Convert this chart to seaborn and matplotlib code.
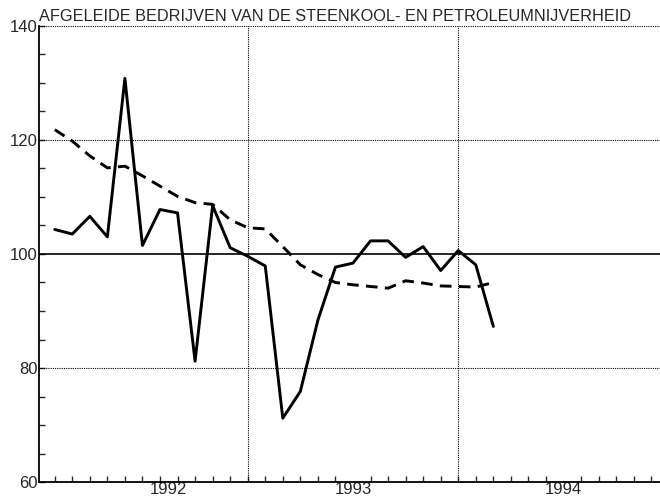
import numpy as np
import pandas as pd
import matplotlib
matplotlib.use("Agg")
import matplotlib.pyplot as plt
import seaborn as sns

# monthly index values, starting at month 1 (early 1992)
months = list(range(1, 27))
actual = [104.3, 103.5, 106.6, 103.0, 130.8, 101.5, 107.8, 107.2, 81.2, 108.5,
          101.1, 99.6, 97.9, 71.2, 75.9, 88.4, 97.7, 98.4, 102.3, 102.3,
          99.4, 101.3, 97.1, 100.6, 98.1, 87.3]
trend = [121.8, 119.8, 117.2, 115.1, 115.4, 113.7, 111.9, 110.1, 109.0, 108.7,
         106.0, 104.6, 104.4, 101.3, 98.1, 96.4, 95.0, 94.6, 94.3, 94.0,
         95.3, 94.9, 94.4, 94.3, 94.2, 95.0]
year_labels = ["1992", "1993", "1994"]
year_pos = [7.5, 18, 30]
year_bounds = [12, 24]
title = "AFGELEIDE BEDRIJVEN VAN DE STEENKOOL- EN PETROLEUMNIJVERHEID"

df = pd.DataFrame({"month": months, "actual": actual, "trend": trend})

sns.set_style("white")
plt.rcParams["font.family"] = ["Liberation Sans", "DejaVu Sans"]

fig = plt.figure(figsize=(6.6, 4.98), dpi=100)
ax = fig.add_axes([0.059, 0.032, 0.941, 0.916])

# grid lines
for y in [80, 120, 140]:
    ax.axhline(y, color="black", linestyle=(0, (1, 1)), linewidth=0.8, zorder=1)
ax.axhline(100, color="black", linewidth=1.2, zorder=1)
for x in year_bounds:
    ax.axvline(x, color="black", linestyle=(0, (1, 1)), linewidth=0.8, zorder=1)

sns.lineplot(data=df, x="month", y="actual", ax=ax, color="black",
             linewidth=2.1, zorder=3)
sns.lineplot(data=df, x="month", y="trend", ax=ax, color="black",
             linewidth=2.1, linestyle=(0, (4, 2.5)), zorder=3)

ax.set_xlim(0.1, 35.5)
ax.set_ylim(60, 140)
ax.set_xlabel("")
ax.set_ylabel("")

ax.set_yticks([60, 80, 100, 120, 140])
ax.set_yticks(np.arange(60, 141, 5), minor=True)
ax.set_xticks(year_pos)
ax.set_xticklabels(year_labels)
ax.set_xticks(np.arange(1, 36), minor=True)

ax.tick_params(axis="y", which="both", direction="in", length=4, width=1,
               labelsize=12, pad=1, left=True)
ax.tick_params(axis="x", which="major", length=0, labelsize=12, pad=0)
ax.tick_params(axis="x", which="minor", direction="in", length=4, width=1,
               bottom=True)

for s in ["top", "right"]:
    ax.spines[s].set_visible(False)
for s in ["left", "bottom"]:
    ax.spines[s].set_color("black")
    ax.spines[s].set_linewidth(1.3)

ax.text(0.0, 1.004, title, transform=ax.transAxes, ha="left", va="bottom",
        fontsize=11.7)

fig.savefig("out.png", dpi=100)
